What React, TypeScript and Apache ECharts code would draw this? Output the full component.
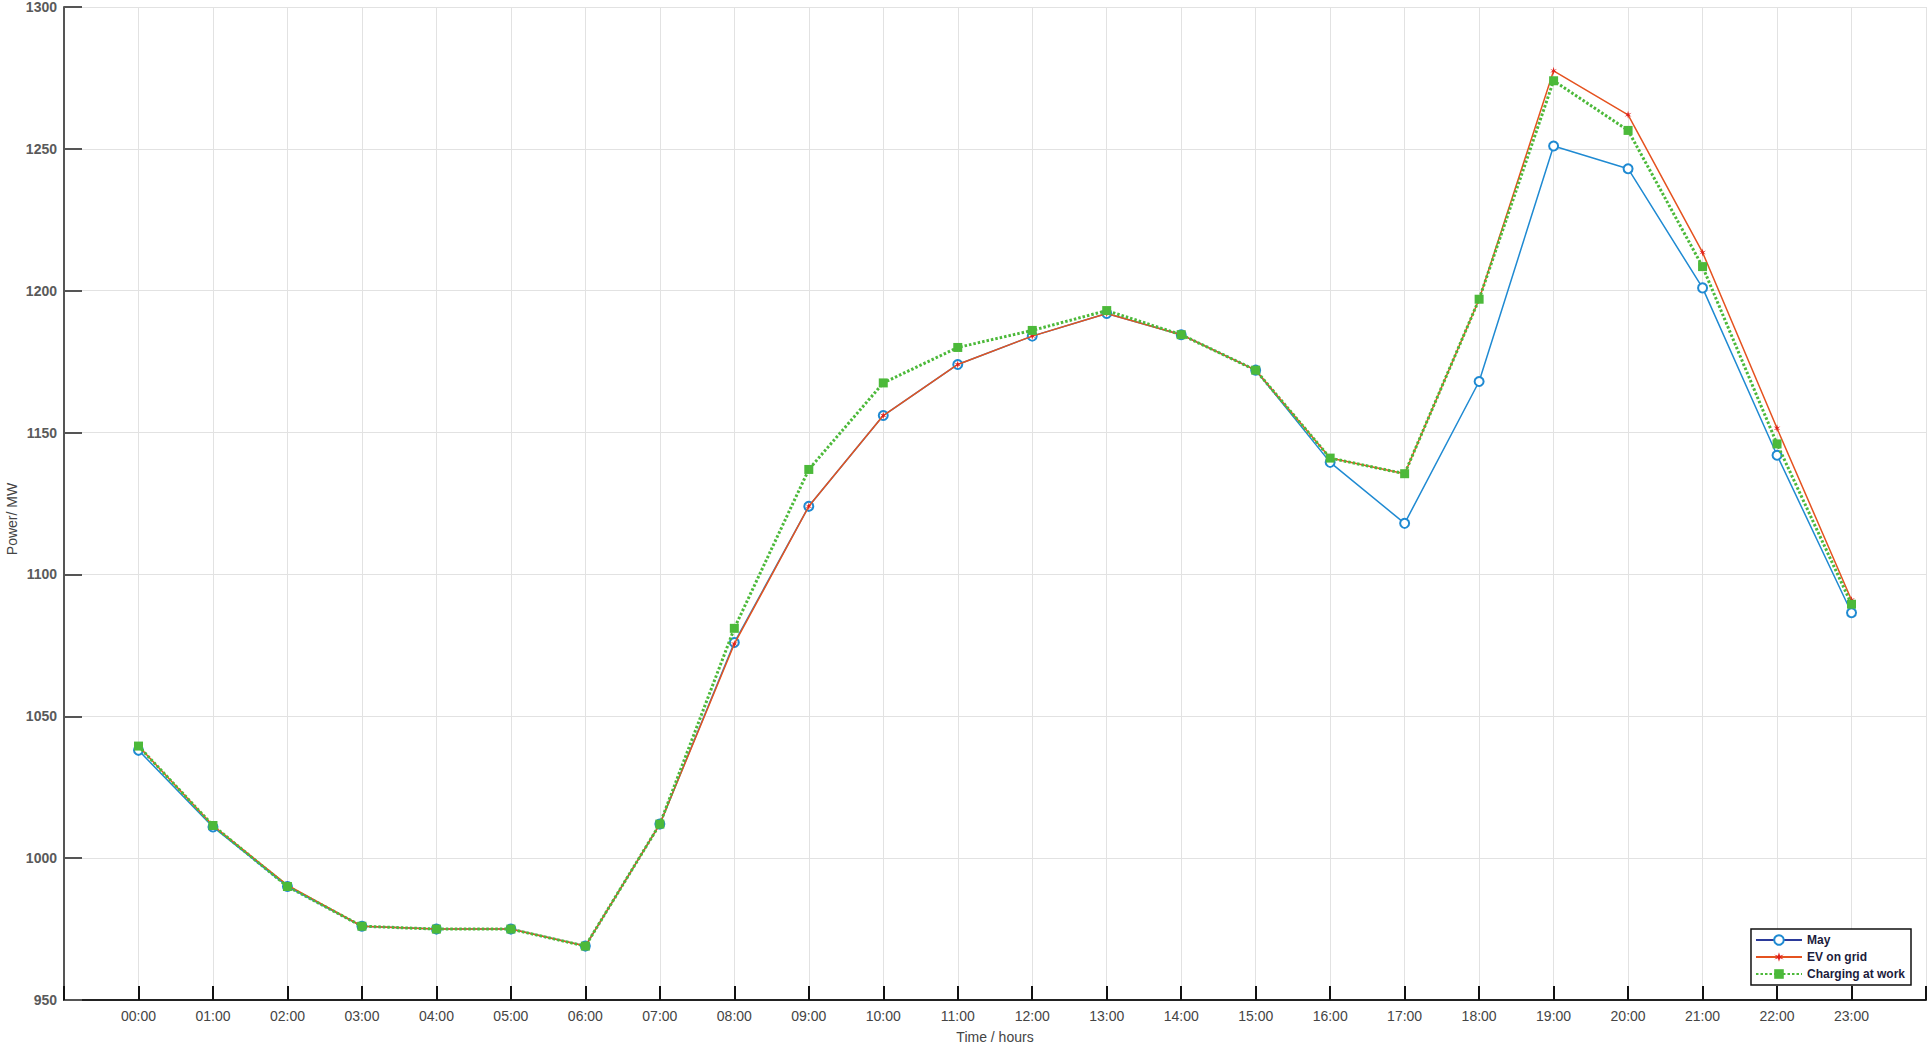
import React, { useEffect, useRef } from "react";
import * as echarts from "echarts";

const hours = [0, 1, 2, 3, 4, 5, 6, 7, 8, 9, 10, 11, 12, 13, 14, 15, 16, 17, 18, 19, 20, 21, 22, 23];
const yTicks = [950, 1000, 1050, 1100, 1150, 1200, 1250, 1300];

const mayValues = [1038, 1011, 990, 976, 975, 975, 969, 1012, 1076, 1124, 1156, 1174, 1184, 1192, 1184.5, 1172, 1139.5, 1118, 1168, 1251, 1243, 1201, 1142, 1086.5];
const evOnGridValues = [1039.5, 1011.5, 990.5, 976, 975, 975, 969, 1012, 1075.5, 1124, 1156, 1174, 1184, 1192, 1184.5, 1172, 1141, 1135.5, 1197, 1277.5, 1262, 1213.5, 1151.5, 1091];
const chargingAtWorkValues = [1039.5, 1011.5, 990, 976, 975, 975, 969, 1012, 1081, 1137, 1167.5, 1180, 1186, 1193, 1184.5, 1172, 1141, 1135.5, 1197, 1274, 1256.5, 1208.5, 1146, 1089.5];

const seriesNames = ["May", "EV on grid", "Charging at work"];
const xAxisTitle = "Time / hours";
const yAxisTitle = "Power/ MW";

const FONT = "'Liberation Sans', Arial, Helvetica, sans-serif";

const pad = (h: number) => (h < 10 ? "0" + h : "" + h) + ":00";

export default function App() {
  const ref = useRef<HTMLDivElement>(null);
  useEffect(() => {
    if (!ref.current) return;
    const chart = echarts.init(ref.current, null, { renderer: "svg" });
    const toPairs = (vals: number[]) => hours.map((h, i) => [h, vals[i]]);
    chart.setOption({
      animation: false,
      backgroundColor: "#ffffff",
      textStyle: { fontFamily: FONT },
      grid: { left: 64, right: 4, top: 6, bottom: 48, containLabel: false },
      xAxis: {
        type: "value",
        min: -1,
        max: 24,
        interval: 1,
        name: xAxisTitle,
        nameLocation: "middle",
        nameGap: 30,
        nameTextStyle: { fontSize: 14, color: "#444", fontFamily: FONT },
        axisLine: { show: true, onZero: false, lineStyle: { color: "#222", width: 2 } },
        axisTick: { show: true, inside: true, length: 14, lineStyle: { color: "#111", width: 2 } },
        axisLabel: {
          margin: 9,
          fontSize: 14,
          color: "#444",
          fontFamily: FONT,
          formatter: (v: number) => (v >= 0 && v <= 23 ? pad(v) : ""),
        },
        splitLine: { show: true, lineStyle: { color: "#e2e2e2", width: 1 } },
      },
      yAxis: {
        type: "value",
        min: yTicks[0],
        max: yTicks[yTicks.length - 1],
        interval: 50,
        axisLine: { show: true, onZero: false, lineStyle: { color: "#555", width: 2 } },
        axisTick: { show: true, inside: true, length: 18, lineStyle: { color: "#555", width: 2 } },
        axisLabel: {
          margin: 7,
          fontSize: 14,
          fontWeight: "bold",
          color: "#5a5a5a",
          fontFamily: FONT,
          formatter: (v: number) => String(v),
        },
        splitLine: { show: true, lineStyle: { color: "#e2e2e2", width: 1 } },
      },
      legend: {
        orient: "vertical",
        right: 19,
        top: 929,
        itemWidth: 46,
        itemHeight: 12,
        itemGap: 5,
        padding: [5, 6, 5, 4],
        borderColor: "#111",
        borderWidth: 1.5,
        backgroundColor: "#ffffff",
        textStyle: { fontSize: 12, fontWeight: "bold", color: "#1c1c3c", fontFamily: FONT },
        data: [
          { name: seriesNames[0], lineStyle: { color: "#2b3a9a" } },
          { name: seriesNames[1] },
          { name: seriesNames[2] },
        ],
      },
      graphic: [
        {
          type: "text",
          x: 12,
          y: 519,
          rotation: Math.PI / 2,
          style: {
            text: yAxisTitle,
            fontSize: 14,
            fill: "#444",
            fontFamily: FONT,
            align: "center",
            verticalAlign: "middle",
          },
        },
      ],
      series: [
        {
          name: seriesNames[0],
          type: "line",
          data: toPairs(mayValues),
          symbol: "emptyCircle",
          symbolSize: 9,
          lineStyle: { color: "#1f8ad2", width: 1.5 },
          itemStyle: { color: "#1f8ad2", borderColor: "#1f8ad2", borderWidth: 1.3 },
          z: 2,
        },
        {
          name: seriesNames[1],
          type: "line",
          data: toPairs(evOnGridValues),
          symbol: "path://M0,-5 L1,-1.2 L4.3,-2.5 L1.4,0 L4.3,2.5 L1,1.2 L0,5 L-1,1.2 L-4.3,2.5 L-1.4,0 L-4.3,-2.5 L-1,-1.2 Z",
          symbolSize: 8,
          symbolKeepAspect: true,
          lineStyle: { color: "#e5521f", width: 1.5 },
          itemStyle: { color: "#e0201b" },
          z: 3,
        },
        {
          name: seriesNames[2],
          type: "line",
          data: toPairs(chargingAtWorkValues),
          symbol: "rect",
          symbolSize: 9,
          lineStyle: { color: "#4cb93a", width: 3, type: [2.5, 2] },
          itemStyle: { color: "#4cb93a" },
          z: 4,
        },
      ],
    });
    return () => chart.dispose();
  }, []);
  return (
    <div
      ref={ref}
      style={{ position: "fixed", left: 0, top: 0, width: "1930px", height: "1049px" }}
    />
  );
}
